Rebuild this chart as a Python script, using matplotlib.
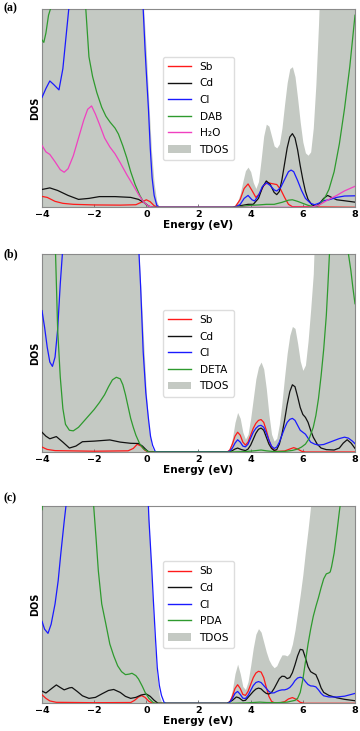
import matplotlib
matplotlib.use("Agg")
import matplotlib.pyplot as plt
from matplotlib.patches import Patch
from matplotlib.lines import Line2D

# ---------------- Panel (a) ----------------
A_TDOS_E = [-4.0, -0.2, -0.1, 0.0, 0.1, 0.2, 0.3, 0.4, 0.5, 3.3, 3.5, 3.6, 3.7, 3.8, 3.9, 4.0, 4.1, 4.2, 4.3,
            4.4, 4.5, 4.6, 4.7, 4.8, 4.9, 5.0, 5.1, 5.2, 5.3, 5.4, 5.5, 5.6, 5.7, 5.8, 5.9, 6.0, 6.1, 6.2,
            6.3, 6.4, 6.5, 6.6, 6.7, 8.0]
A_TDOS_V = [130, 130, 100, 78, 52, 28, 12, 3, 0, 0, 3, 7, 13, 18.5, 20.3, 18, 12.5, 9.5, 13,
            24, 36, 42, 41, 36, 31, 30, 32, 40, 52, 63, 70, 71, 66, 55, 43, 33, 27.5, 26.3,
            28, 40, 62, 92, 130, 130]

A_SB_E = [-4.0, -3.8, -3.5, -3.2, -2.8, -2.0, -1.0, -0.4, -0.2, 0.0, 0.15, 0.3, 0.45, 3.4, 3.6, 3.75, 3.9,
          4.05, 4.2, 4.35, 4.5, 4.65, 4.8, 5.0, 5.15, 5.3, 5.45, 5.6, 8.0]
A_SB_V = [5.5, 5.0, 3.0, 2.0, 1.5, 1.2, 1.1, 1.3, 2.5, 3.8, 2.8, 0.8, 0, 0, 4, 9.5, 11.8,
          8.5, 5, 7, 11, 12.5, 12, 11.5, 9, 5, 1.5, 0.3, 0]

A_CD_E = [-4.0, -3.7, -3.4, -3.0, -2.6, -2.2, -1.8, -1.2, -0.6, -0.3, -0.1, 0.1, 0.25, 3.3, 3.6, 3.9, 4.1,
          4.3, 4.45, 4.6, 4.75, 4.9, 5.0, 5.1, 5.2, 5.3, 5.4, 5.5, 5.6, 5.7, 5.8, 5.9, 6.0, 6.1, 6.2,
          6.35, 6.5, 6.65, 6.8, 6.95, 7.1, 7.3, 7.6, 8.0]
A_CD_V = [9, 9.8, 8.5, 6, 4, 4.5, 5.4, 5.4, 5, 4, 2.5, 0.5, 0, 0, 0.8, 1.5, 1.5,
          4.5, 10, 13.3, 11.5, 7.5, 6.4, 8, 14, 22, 30, 35.5, 37.2, 35, 29, 21, 14, 8, 4,
          1.2, 0.5, 2, 4.5, 6, 5, 3.8, 3.3, 2.6]

A_CL_E = [-4.0, -3.85, -3.7, -3.55, -3.35, -3.2, -3.05, -2.9, -0.2, -0.12, -0.05, 0.0, 0.08, 0.15, 0.22,
          0.3, 0.4, 0.5, 3.4, 3.6, 3.75, 3.9, 4.05, 4.15, 4.3, 4.45, 4.6, 4.75, 4.9, 5.0, 5.15, 5.3,
          5.45, 5.55, 5.65, 5.8, 5.95, 6.1, 6.3, 6.45, 6.6, 6.8, 7.0, 7.3, 7.6, 8.0]
A_CL_V = [55.5, 60, 63.8, 62, 59.3, 70, 90, 110, 130, 100, 80, 68, 50, 30, 15,
          6, 1, 0, 0, 1.5, 4.5, 6, 3.8, 3.2, 6, 10.5, 12.4, 11, 8.8, 8.2, 10, 14,
          18, 18.8, 18, 13.5, 8.5, 4.5, 2, 1.3, 2, 3.3, 3.8, 5, 5.7, 5.8]

A_DAB_E = [-4.0, -3.93, -3.85, -3.75, -3.68, -3.6, -2.4, -2.32, -2.2, -2.06, -1.9, -1.71, -1.55, -1.39,
           -1.2, -1.07, -0.9, -0.75, -0.6, -0.43, -0.25, -0.12, 0.0, 0.14, 0.3, 3.4, 3.7, 4.0, 4.3,
           4.6, 4.9, 5.2, 5.45, 5.6, 5.8, 6.0, 6.2, 6.4, 6.55, 6.7, 6.85, 7.0, 7.2, 7.4, 7.6, 7.8, 8.0]
A_DAB_V = [84.5, 83.3, 88, 97, 100, 115, 115, 100, 76, 66, 58, 50.5, 46, 43, 40,
           37, 31, 25, 18, 11.5, 6, 3, 1.2, 0.3, 0, 0, 0.5, 1, 1.2,
           1.5, 1.5, 2.5, 3.6, 3.8, 3, 2, 1, 0.3, 0.5, 2, 5, 9, 18, 32, 50, 71, 97]

A_H2O_E = [-4.0, -3.85, -3.7, -3.5, -3.3, -3.15, -3.0, -2.8, -2.6, -2.4, -2.25, -2.1, -1.95, -1.8, -1.6,
           -1.4, -1.2, -1.0, -0.75, -0.5, -0.3, -0.1, 0.1, 0.3, 6.3, 6.6, 6.8, 7.0, 7.3, 7.6, 8.0]
A_H2O_V = [31.2, 28, 26.7, 23, 19, 17.7, 19.5, 26, 35, 44, 49.5, 51.2, 47, 42, 35,
           30.5, 27, 22.5, 16.5, 11, 6.5, 2.5, 0.5, 0, 0, 1, 2.5, 4, 6, 8.3, 10.6]

# ---------------- Panel (b) ----------------
B_TDOS_E = [-4.0, -0.35, -0.3, -0.25, -0.2, -0.1, 0.0, 0.1, 0.2, 0.3, 3.1, 3.2, 3.3, 3.4, 3.5, 3.6, 3.7,
            3.8, 3.9, 4.0, 4.1, 4.2, 4.3, 4.4, 4.5, 4.6, 4.7, 4.8, 4.9, 5.0, 5.1, 5.2, 5.3, 5.4, 5.5,
            5.6, 5.7, 5.8, 5.9, 6.0, 6.1, 6.2, 6.3, 6.4, 6.5, 8.0]
B_TDOS_V = [130, 130, 105, 92, 80, 55, 30, 12, 3, 0, 0, 2, 7, 15, 20, 17, 10,
            6.5, 9, 17, 27, 37, 43, 45.5, 42, 32, 19, 9, 5.5, 7, 14, 25, 38, 50, 59,
            63.5, 62.5, 55, 46, 41.3, 44, 56, 72, 90, 130, 130]

B_SB_E = [-4.0, -3.8, -3.5, -2.0, -0.7, -0.5, -0.35, -0.2, -0.05, 0.1, 3.1, 3.2, 3.3, 3.4, 3.5, 3.6, 3.7,
          3.8, 3.9, 4.0, 4.1, 4.2, 4.3, 4.4, 4.5, 4.6, 4.7, 4.8, 4.9, 5.0, 5.3, 5.5, 5.65, 5.8, 5.95,
          6.1, 8.0]
B_SB_V = [2.5, 1.3, 0.7, 0.4, 0.6, 1.8, 3.9, 3, 0.8, 0, 0, 1, 4, 8, 10, 8.5, 5,
          3.5, 5, 8.5, 12, 14.5, 16, 16.4, 15, 11, 6, 2.5, 0.8, 0.3, 0.5, 1.5, 2.2, 1.5, 0.4,
          0, 0]

B_CD_E = [-4.0, -3.85, -3.7, -3.45, -3.2, -2.95, -2.7, -2.45, -2.0, -1.4, -1.0, -0.6, -0.3, -0.15, 0.0,
          0.1, 3.2, 3.4, 3.5, 3.65, 3.8, 3.9, 4.0, 4.1, 4.2, 4.3, 4.4, 4.5, 4.6, 4.7, 4.8, 4.9, 5.0,
          5.1, 5.2, 5.3, 5.4, 5.5, 5.6, 5.7, 5.8, 5.9, 6.0, 6.1, 6.2, 6.3, 6.4, 6.55, 6.7, 6.9, 7.2,
          7.4, 7.55, 7.7, 7.85, 8.0]
B_CD_V = [10, 8, 6.7, 7.8, 5, 2, 3, 5.2, 5.5, 6.1, 5, 4.4, 4.3, 3, 1,
          0, 0, 1.5, 2, 1.2, 0.7, 1.5, 3.5, 6.5, 9.5, 11.5, 12.1, 11, 7.5, 4, 1.8, 0.8, 1.2,
          4, 9, 16, 24, 30.5, 34, 33, 28, 22.5, 19, 17.5, 15, 11, 7.5, 4, 2, 1.2, 1,
          2, 4.5, 6.2, 4.5, 1.8]

B_CL_E = [-4.0, -3.9, -3.8, -3.7, -3.6, -3.5, -3.4, -3.3, -3.22, -3.1, -0.35, -0.28, -0.22, -0.12, -0.02,
          0.08, 0.16, 0.24, 0.35, 3.1, 3.2, 3.3, 3.4, 3.5, 3.6, 3.7, 3.8, 3.9, 4.0, 4.1, 4.2, 4.3,
          4.4, 4.5, 4.6, 4.7, 4.8, 4.9, 5.0, 5.1, 5.2, 5.3, 5.4, 5.5, 5.6, 5.7, 5.8, 5.9, 6.0, 6.1,
          6.2, 6.3, 6.45, 6.6, 6.8, 7.0, 7.2, 7.4, 7.6, 7.75, 7.9, 8.0]
B_CL_V = [71.5, 63, 53, 45.5, 43.3, 48, 62, 85, 100, 130, 130, 100, 84, 50.6, 30,
          17, 8, 3.4, 0, 0, 0.5, 2, 4.5, 6.2, 5, 3, 2.6, 4, 7, 10, 12, 13.2,
          13.5, 12.5, 9.5, 6, 3, 1.8, 2.5, 5, 8.5, 12, 15, 16.5, 17, 16, 13.5, 11, 10, 9,
          7, 5, 4, 3.5, 3.8, 4.8, 5.8, 6.8, 7.5, 7, 5.5, 4.2]

B_DETA_E = [-4.0, -3.55, -3.48, -3.4, -3.3, -3.2, -3.1, -2.95, -2.8, -2.6, -2.4, -2.2, -2.0, -1.8, -1.6,
            -1.45, -1.3, -1.15, -1.0, -0.9, -0.8, -0.7, -0.6, -0.5, -0.4, -0.25, -0.1, 0.1, 3.2, 3.8,
            4.2, 4.4, 4.6, 4.9, 5.3, 5.6, 5.8, 5.95, 6.1, 6.25, 6.4, 6.5, 6.6, 6.7, 6.8, 6.9, 6.96,
            7.02, 7.1, 7.6, 7.7, 7.75, 7.84, 7.92, 8.0]
B_DETA_V = [150, 110, 100, 62, 38, 22, 14, 11, 10.7, 12.5, 15.5, 18.5, 21.5, 25, 29,
            33, 36.5, 37.8, 37, 34, 29, 23, 17, 12.5, 8.5, 4, 1.5, 0, 0, 0.2,
            0.7, 1, 0.6, 0.2, 0.3, 0.8, 1.5, 2.5, 4, 7, 12.5, 18.5, 27, 38.5, 52, 69, 84,
            100, 125, 150, 115, 100, 92, 83, 75]

# ---------------- Panel (c) ----------------
C_TDOS_E = [-4.0, 0.0, 0.05, 0.1, 0.2, 0.3, 0.4, 0.5, 0.6, 3.1, 3.2, 3.3, 3.4, 3.5, 3.6, 3.7, 3.8, 3.9,
            4.0, 4.1, 4.2, 4.3, 4.4, 4.5, 4.6, 4.7, 4.8, 4.9, 5.0, 5.1, 5.2, 5.3, 5.4, 5.5, 5.6, 5.7,
            5.8, 5.9, 6.0, 6.1, 6.2, 6.3, 6.4, 8.0]
C_TDOS_V = [130, 130, 105, 92, 62, 35, 15, 4, 0, 0, 1.5, 7, 15, 19.8, 15, 8.5, 7, 11,
            19, 28, 35, 37.8, 36, 31, 26, 22, 19.5, 18, 19, 22, 24.5, 24.5, 24, 25.5, 30, 37,
            46, 55, 65, 77, 88, 100, 130, 130]

C_SB_E = [-4.0, -3.85, -3.7, -3.45, -2.0, -0.6, -0.45, -0.3, -0.18, -0.05, 0.1, 0.25, 3.1, 3.2, 3.3, 3.4,
          3.5, 3.6, 3.7, 3.8, 3.9, 4.0, 4.1, 4.2, 4.3, 4.4, 4.5, 4.6, 4.7, 4.8, 4.9, 5.1, 5.3, 5.45,
          5.6, 5.75, 5.9, 6.05, 8.0]
C_SB_V = [4.3, 2.5, 1.2, 0.5, 0.3, 0.4, 1.5, 3.2, 3.9, 3, 1, 0, 0, 0.8, 3.5, 7.5,
          9.4, 7.5, 4.5, 4, 6, 9.5, 13, 15.3, 16.2, 15.8, 13, 8, 3.5, 1, 0.3, 0.2, 0.8, 2.2,
          2.9, 2, 0.5, 0, 0]

C_CD_E = [-4.0, -3.85, -3.6, -3.45, -3.3, -3.15, -2.95, -2.85, -2.65, -2.45, -2.2, -1.95, -1.7, -1.45,
          -1.25, -1.0, -0.8, -0.6, -0.4, -0.2, 0.0, 0.15, 0.3, 0.45, 3.1, 3.3, 3.45, 3.55, 3.7, 3.8,
          3.9, 4.0, 4.1, 4.2, 4.3, 4.4, 4.5, 4.6, 4.7, 4.8, 4.9, 5.0, 5.1, 5.2, 5.3, 5.4, 5.5, 5.6,
          5.7, 5.8, 5.9, 6.0, 6.1, 6.2, 6.3, 6.4, 6.5, 6.6, 6.7, 6.8, 7.0, 7.3, 7.6, 8.0]
C_CD_V = [6.2, 5.2, 7.8, 9.3, 8, 6.8, 7.8, 8, 6, 3.8, 2.5, 3, 4.8, 6.5,
          7, 5.5, 3.5, 2.5, 3, 4.2, 4.7, 3.5, 1.5, 0, 0, 1.5, 3.2, 2.8, 1.3, 1.5,
          3, 4.5, 6, 7.2, 7.7, 7.3, 6, 5, 4.7, 5.5, 7.5, 10, 12.5, 13.7, 13.6, 12.5, 13, 15.5,
          19.5, 24, 27.3, 27, 23, 18.5, 16, 15.2, 14.5, 11.5, 7.8, 5.5, 4, 2.8, 2, 1.3]

C_CL_E = [-4.0, -3.9, -3.77, -3.65, -3.5, -3.38, -3.28, -3.15, -3.08, -3.0, 0.0, 0.05, 0.1, 0.2, 0.27,
          0.35, 0.42, 0.5, 0.58, 0.68, 0.75, 3.1, 3.2, 3.3, 3.4, 3.5, 3.6, 3.7, 3.8, 3.9, 4.0, 4.1,
          4.2, 4.3, 4.4, 4.5, 4.6, 4.7, 4.8, 4.9, 5.0, 5.1, 5.2, 5.3, 5.4, 5.5, 5.6, 5.7, 5.8, 5.9,
          6.0, 6.1, 6.2, 6.3, 6.4, 6.5, 6.6, 6.7, 6.8, 7.0, 7.3, 7.6, 8.0]
C_CL_V = [41.5, 37.5, 35.4, 40, 50.3, 62, 75.6, 92, 100, 130, 130, 110, 93, 70, 52,
          33, 18, 9, 4, 0.5, 0, 0, 0.5, 2.5, 5, 6, 4.5, 2.6, 2.4, 4, 6.5, 9,
          10.5, 11, 10.5, 9, 7.5, 6, 5.2, 5.3, 6, 6.5, 6.8, 6.8, 7.2, 8, 9.5, 11.5, 12.8, 13.2,
          12.8, 11, 9.5, 8.8, 8.7, 8.3, 6.8, 5, 3.8, 3.2, 3.2, 3.6, 5]

C_PDA_E = [-4.0, -3.95, -3.9, -2.1, -2.02, -1.93, -1.84, -1.71, -1.55, -1.4, -1.25, -1.1, -0.95, -0.8,
           -0.65, -0.55, -0.4, -0.3, -0.15, -0.05, 0.1, 0.27, 0.35, 3.2, 3.8, 4.1, 4.35, 4.6, 5.0,
           5.4, 5.7, 5.8, 5.9, 6.0, 6.1, 6.2, 6.3, 6.4, 6.5, 6.6, 6.7, 6.8, 6.9, 7.0, 7.05, 7.1, 7.2,
           7.3, 7.4, 7.45, 7.6, 8.0]
C_PDA_V = [98, 105, 130, 130, 100, 84, 67, 50.3, 40, 30, 24, 19, 16, 14.5,
           14.8, 15.2, 14, 12.3, 8.5, 5.6, 2.5, 0.3, 0, 0, 0.2, 0.4, 0.6, 0.4, 0.3,
           0.6, 1.5, 2.5, 5.5, 12, 21, 30, 37.5, 44, 49, 53.5, 58.5, 63, 65.5, 66, 66.5, 69, 76,
           86, 97, 102, 140, 140]

XTICKS = [-4, -2, 0, 2, 4, 6, 8]
XTICK_LABELS = ["\u22124", "\u22122", "0", "2", "4", "6", "8"]

C_SB = "#ff1a1a"
C_CD = "#111111"
C_CL = "#1a1aff"
C_ORG = "#2e9a2e"
C_H2O = "#f040c0"
C_FILL = "#c4c9c3"

FW, FH = 360, 731
fig = plt.figure(figsize=(FW / 100, FH / 100), dpi=100)


def make_axes(top_px, bottom_px):
    left, right = 42, 355
    return fig.add_axes([left / FW, 1 - bottom_px / FH, (right - left) / FW, (bottom_px - top_px) / FH])


panels = [
    (make_axes(9.3, 207.3), "(a)", 8,
     (A_TDOS_E, A_TDOS_V),
     [("Sb", A_SB_E, A_SB_V, C_SB), ("Cd", A_CD_E, A_CD_V, C_CD), ("Cl", A_CL_E, A_CL_V, C_CL),
      ("DAB", A_DAB_E, A_DAB_V, C_ORG), ("H\u2082O", A_H2O_E, A_H2O_V, C_H2O)]),
    (make_axes(254.3, 452.0), "(b)", 254,
     (B_TDOS_E, B_TDOS_V),
     [("Sb", B_SB_E, B_SB_V, C_SB), ("Cd", B_CD_E, B_CD_V, C_CD), ("Cl", B_CL_E, B_CL_V, C_CL),
      ("DETA", B_DETA_E, B_DETA_V, C_ORG)]),
    (make_axes(505.7, 703.3), "(c)", 498.5,
     (C_TDOS_E, C_TDOS_V),
     [("Sb", C_SB_E, C_SB_V, C_SB), ("Cd", C_CD_E, C_CD_V, C_CD), ("Cl", C_CL_E, C_CL_V, C_CL),
      ("PDA", C_PDA_E, C_PDA_V, C_ORG)]),
]

for ax, tag, tag_y, (te, tv), series in panels:
    ax.fill_between(te, 0, tv, color=C_FILL, lw=0, zorder=1)
    handles = []
    for name, e, v, col in series:
        ax.plot(e, v, color=col, lw=0.9, zorder=3)
        handles.append(Line2D([0], [0], color=col, lw=1.0, label=name))
    handles.append(Patch(facecolor=C_FILL, edgecolor="none", label="TDOS"))
    ax.set_xlim(-4, 8)
    ax.set_ylim(0, 100)
    ax.set_yticks([])
    ax.set_xticks(XTICKS)
    ax.set_xticklabels(XTICK_LABELS, fontweight="bold", fontsize=6.8)
    ax.tick_params(axis="x", direction="in", length=2, width=0.6, pad=2.2, color="#666666")
    for s in ax.spines.values():
        s.set_color("#8a8a8a")
        s.set_linewidth(0.8)
    ax.set_ylabel("DOS", fontweight="bold", fontsize=7, labelpad=1)
    ax.set_xlabel("Energy (eV)", fontweight="bold", fontsize=7.6, labelpad=0.5)
    leg = ax.legend(handles=handles, loc="center", fontsize=7.6, frameon=True,
                    fancybox=True, framealpha=1.0, edgecolor="#dddddd",
                    handlelength=2.2, labelspacing=0.62, borderpad=0.5, handletextpad=0.8)
    leg.set_zorder(5)
    fig.text(3 / FW, 1 - tag_y / FH, tag, fontsize=8.5, fontweight="bold",
             family="Liberation Serif", ha="left", va="center")

fig.savefig("out.png", dpi=100)
